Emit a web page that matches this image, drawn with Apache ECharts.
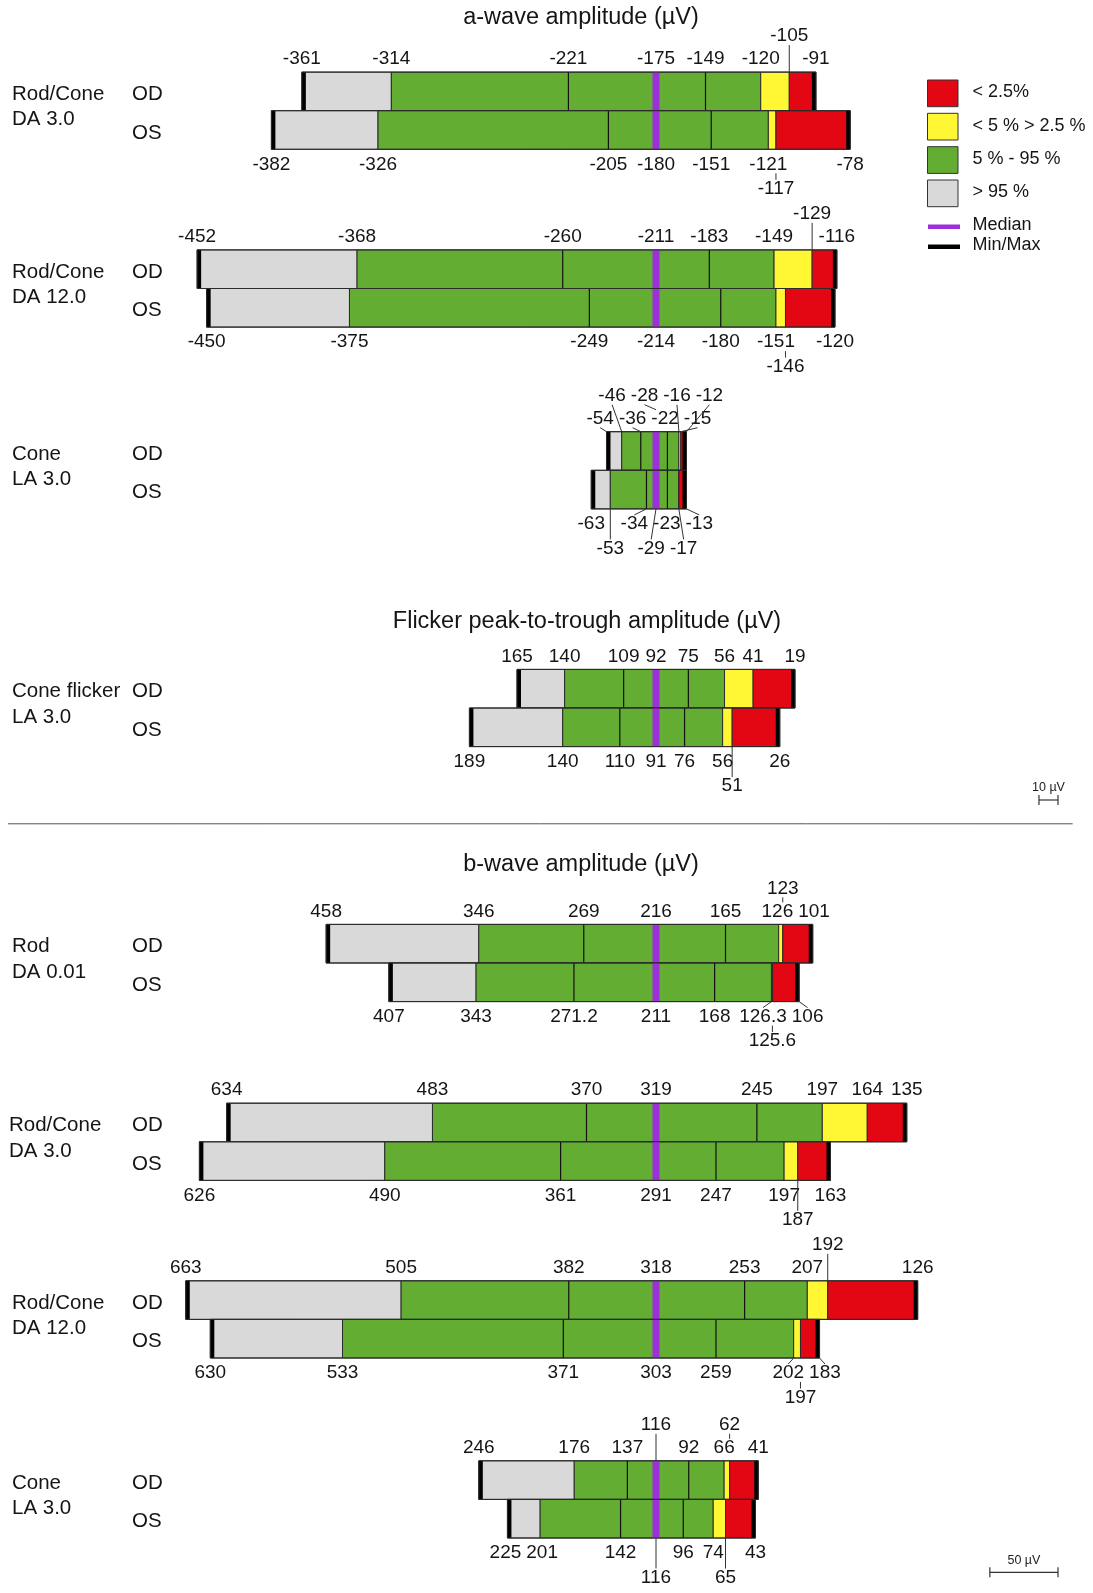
<!DOCTYPE html>
<html><head><meta charset="utf-8">
<script src="https://cdn.jsdelivr.net/npm/echarts@6/dist/echarts.min.js"></script>
<style>html,body{margin:0;padding:0;background:#fff}#c{width:1093px;height:1593px}</style>
</head><body><div id="c"></div>
<script>
// ---------- DATA (µV) ----------
// each row: [min, >95% | 5-95% boundary, inner line, median, inner line, 5-95% | <5% boundary, <5% | <2.5% boundary, max]
const aRodCone30_OD  = [-361, -314, -221, -175, -149, -120, -105, -91];
const aRodCone30_OS  = [-382, -326, -205, -180, -151, -121, -117, -78];
const aRodCone120_OD = [-452, -368, -260, -211, -183, -149, -129, -116];
const aRodCone120_OS = [-450, -375, -249, -214, -180, -151, -146, -120];
const aCone30_OD     = [-54, -46, -36, -28, -22, -16, -15, -12];
const aCone30_OS     = [-63, -53, -34, -29, -23, -17, -17, -13];
const flicker_OD     = [165, 140, 109, 92, 75, 56, 41, 19];
const flicker_OS     = [189, 140, 110, 91, 76, 56, 51, 26];
const bRod001_OD     = [458, 346, 269, 216, 165, 126, 123, 101];
const bRod001_OS     = [407, 343, 271.2, 211, 168, 126.3, 125.6, 106];
const bRodCone30_OD  = [634, 483, 370, 319, 245, 197, 164, 135];
const bRodCone30_OS  = [626, 490, 361, 291, 247, 197, 187, 163];
const bRodCone120_OD = [663, 505, 382, 318, 253, 207, 192, 126];
const bRodCone120_OS = [630, 533, 371, 303, 259, 202, 197, 183];
const bCone30_OD     = [246, 176, 137, 116, 92, 66, 62, 41];
const bCone30_OS     = [225, 201, 142, 116, 96, 74, 65, 43];
const eyes = ['OD', 'OS'];
const groupNames = [
  ['Rod/Cone', 'DA 3.0'], ['Rod/Cone', 'DA 12.0'], ['Cone', 'LA 3.0'],
  ['Cone flicker', 'LA 3.0'],
  ['Rod', 'DA 0.01'], ['Rod/Cone', 'DA 3.0'], ['Rod/Cone', 'DA 12.0'], ['Cone', 'LA 3.0']
];
const groupRows = [
  [aRodCone30_OD, aRodCone30_OS], [aRodCone120_OD, aRodCone120_OS], [aCone30_OD, aCone30_OS],
  [flicker_OD, flicker_OS],
  [bRod001_OD, bRod001_OS], [bRodCone30_OD, bRodCone30_OS], [bRodCone120_OD, bRodCone120_OS], [bCone30_OD, bCone30_OS]
];
const sectionTitles = ['a-wave amplitude (µV)', 'Flicker peak-to-trough amplitude (µV)', 'b-wave amplitude (µV)'];
const legendLabels = ['< 2.5%', '< 5 % > 2.5 %', '5 % - 95 %', '> 95 %', 'Median', 'Min/Max'];
const scaleBarA = [10];
const scaleBarB = [50];

// ---------- LAYOUT / STYLE ----------
const W = 1093, MEDIAN_X = 656, BAND = 38.6;
const PX_A = 1.904, PX_B = 1.363;            // px per µV
const groupScale = ['a','a','a','a','b','b','b','b'];
const groupTops = [72.1, 249.9, 431.7, 669.4, 924.4, 1103.2, 1280.8, 1460.8];
const groupNameX = [12, 12, 12, 12, 12, 9, 12, 12];
const C_GREY = '#d9d9d9', C_GREEN = '#63ad32', C_YELLOW = '#fff733', C_RED = '#e30613', C_MED = '#9c30da';
const FONT = '"Liberation Sans", Arial, Helvetica, sans-serif';
const LBL_SIZE = 19;
const TXT = '#151515';

const mctx = document.createElement('canvas').getContext('2d');
function textW(s, size) { mctx.font = size + 'px ' + FONT; return mctx.measureText(s).width; }

// label layout: clusters of overlapping labels alternate between two tiers,
// then labels in each tier are spread symmetrically to remove overlaps
function layoutLabels(L) {
  const PAD = 0.5, PAD_MED = 3, GAP = 5;
  const n = L.length;
  const overl = (a, b) => (b.x - a.x) < (a.w + b.w) / 2 + ((a.med || b.med) ? PAD_MED : PAD);
  let i = 0;
  while (i < n) {
    let j = i;
    while (j + 1 < n && overl(L[j], L[j + 1])) j++;
    const cl = L.slice(i, j + 1);
    let base = 0;
    const mi = cl.findIndex(l => l.med);
    if (cl.length > 1 && mi >= 0) base = (mi % 2 === 0) ? 1 : 0;
    cl.forEach((l, k) => { l.tier = cl.length === 1 ? 0 : (base + k) % 2; l.cx = l.x; });
    i = j + 1;
  }
  [0, 1].forEach(t => {
    const T = L.filter(l => l.tier === t);
    for (let it = 0; it < 300; it++) {
      let moved = false;
      for (let k = 0; k + 1 < T.length; k++) {
        const need = (T[k].w + T[k + 1].w) / 2 + GAP;
        const d = need - (T[k + 1].cx - T[k].cx);
        if (d > 0.01) { T[k].cx -= d / 2; T[k + 1].cx += d / 2; moved = true; }
      }
      if (!moved) break;
    }
  });
}

function txt(text, x, y, size, align, extra) {
  return Object.assign({ text, x, y, fill: TXT, font: size + 'px ' + FONT,
    textAlign: align || 'center', align: align || 'center', textVerticalAlign: 'middle', verticalAlign: 'middle' }, extra || {});
}

function renderRow(params, api) {
  const row = api.value(0);
  const v = [];
  for (let i = 0; i < 8; i++) v.push(api.value(2 + i));
  const med = v[3];
  const off = x => Math.abs(med) - Math.abs(x);
  const X = x => api.coord([off(x), row])[0];
  const yc = api.coord([0, row])[1];
  const h = api.size([0, 1])[1];
  const top = yc - h / 2, bot = yc + h / 2;
  const ch = [];
  const seg = (a, b, color) => ch.push({ type: 'rect', shape: { x: X(a), y: top, width: X(b) - X(a), height: h },
    style: { fill: color, stroke: '#2b2b2b', lineWidth: 1 } });
  seg(v[0], v[1], C_GREY); seg(v[1], v[5], C_GREEN); seg(v[5], v[6], C_YELLOW); seg(v[6], v[7], C_RED);
  [v[2], v[4]].forEach(q => ch.push({ type: 'line', shape: { x1: X(q), y1: top, x2: X(q), y2: bot },
    style: { stroke: '#111', lineWidth: 1.2 } }));
  ch.push({ type: 'rect', shape: { x: X(med) - 3.5, y: top, width: 7, height: h }, style: { fill: C_MED } });
  ch.push({ type: 'rect', shape: { x: X(v[0]), y: top, width: 4, height: h }, style: { fill: '#000' } });
  ch.push({ type: 'rect', shape: { x: X(v[7]) - 4, y: top, width: 4, height: h }, style: { fill: '#000' } });
  ch.push({ type: 'rect', shape: { x: X(v[0]), y: top, width: X(v[7]) - X(v[0]), height: h },
    style: { fill: 'none', stroke: '#2b2b2b', lineWidth: 1 } });

  const labels = [];
  v.forEach((val, i) => {
    if (i > 0 && val === v[i - 1]) return;
    const t = String(val);
    labels.push({ text: t, x: X(val), w: textW(t, LBL_SIZE), med: i === 3 });
  });
  labels.sort((a, b) => a.x - b.x);
  layoutLabels(labels);
  const isTop = row === 0;
  const t0 = labels.filter(l => l.tier === 0);
  const sgn = isTop ? -1 : 1;
  const Y0 = isTop ? 13 : 15, Y1 = isTop ? 36 : 39.5, HALF = 9;
  const edge = isTop ? top : bot;
  labels.forEach(l => {
    const ly = edge + sgn * (l.tier ? Y1 : Y0);
    ch.push({ type: 'text', style: txt(l.text, l.cx, ly, LBL_SIZE) });
    const lineSt = { stroke: '#333', lineWidth: 1 };
    if (l.tier) {
      const crosses = t0.some(o => l.x > o.cx - o.w / 2 + 3 && l.x < o.cx + o.w / 2 - 3);
      const yStart = crosses ? edge + sgn * (Y0 + HALF) : edge;
      ch.push({ type: 'line', shape: { x1: l.x, y1: yStart, x2: l.cx, y2: ly - sgn * HALF }, style: lineSt });
    } else if (Math.abs(l.cx - l.x) > 3) {
      ch.push({ type: 'line', shape: { x1: l.x, y1: edge, x2: l.cx, y2: ly - sgn * HALF }, style: lineSt });
    }
  });
  return { type: 'group', children: ch };
}

function scaleBar(yOff, unit) {
  return function (params, api) {
    const len = api.size([api.value(0), 0])[0];
    const cs = params.coordSys;
    const right = cs.x + cs.width - 35;
    const y = cs.y + cs.height + yOff;
    const st = { stroke: '#333', lineWidth: 1.2 };
    return { type: 'group', children: [
      { type: 'line', shape: { x1: right - len, y1: y, x2: right, y2: y }, style: st },
      { type: 'line', shape: { x1: right - len, y1: y - 5, x2: right - len, y2: y + 5 }, style: st },
      { type: 'line', shape: { x1: right, y1: y - 5, x2: right, y2: y + 5 }, style: st },
      { type: 'text', style: txt(api.value(0) + ' ' + unit, right - len / 2, y - 12, 12.5, 'center', { fill: '#222' }) }
    ] };
  };
}

const grid = [], xAxis = [], yAxis = [], series = [];
groupRows.forEach((rows, i) => {
  const k = groupScale[i] === 'a' ? PX_A : PX_B;
  grid.push({ left: 0, width: W, top: groupTops[i], height: 2 * BAND });
  xAxis.push({ type: 'value', gridIndex: i, min: -MEDIAN_X / k, max: (W - MEDIAN_X) / k, show: false });
  yAxis.push({ type: 'category', gridIndex: i, data: eyes, inverse: true, show: false });
  series.push({ type: 'custom', xAxisIndex: i, yAxisIndex: i, renderItem: renderRow, clip: false, silent: true,
    encode: { x: 1, y: 0 }, data: rows.map((r, ri) => [ri, 0].concat(r)) });
});
series.push({ type: 'custom', xAxisIndex: 3, yAxisIndex: 3, renderItem: scaleBar(53.4, 'µV'), clip: false, silent: true,
  encode: { x: 0, y: 1 }, data: [[scaleBarA[0], 0]] });
series.push({ type: 'custom', xAxisIndex: 7, yAxisIndex: 7, renderItem: scaleBar(34.3, 'µV'), clip: false, silent: true,
  encode: { x: 0, y: 1 }, data: [[scaleBarB[0], 0]] });

// graphics: titles, left labels, legend, separator
const graphic = [];
const titlePos = [[581, 17.8], [587, 621.7], [581, 864.5]];
sectionTitles.forEach((t, i) => graphic.push({ type: 'text', style: txt(t, titlePos[i][0], titlePos[i][1], 23.5) }));
groupNames.forEach((nm, i) => {
  const yOD = groupTops[i] + BAND / 2 + 3;
  graphic.push({ type: 'text', style: txt(nm[0], groupNameX[i], yOD, 20.5, 'left') });
  graphic.push({ type: 'text', style: txt(nm[1], groupNameX[i], yOD + 25.4, 20.5, 'left') });
  graphic.push({ type: 'text', style: txt(eyes[0], 132, yOD, 20.5, 'left') });
  graphic.push({ type: 'text', style: txt(eyes[1], 132, yOD + BAND, 20.5, 'left') });
});
const legColors = [C_RED, C_YELLOW, C_GREEN, C_GREY];
const legBoxY = [80, 113.3, 146.7, 180];
legColors.forEach((c, i) => {
  graphic.push({ type: 'rect', shape: { x: 927.5, y: legBoxY[i], width: 30.5, height: 26.7 }, style: { fill: c, stroke: '#333', lineWidth: 1 } });
  graphic.push({ type: 'text', style: txt(legendLabels[i], 972.5, legBoxY[i] + 12.5, 18, 'left') });
});
graphic.push({ type: 'rect', shape: { x: 928, y: 224.5, width: 32, height: 4.5 }, style: { fill: C_MED } });
graphic.push({ type: 'text', style: txt(legendLabels[4], 972.5, 225, 18, 'left') });
graphic.push({ type: 'rect', shape: { x: 928, y: 244.5, width: 32, height: 4.5 }, style: { fill: '#000' } });
graphic.push({ type: 'text', style: txt(legendLabels[5], 972.5, 245.5, 18, 'left') });
graphic.push({ type: 'line', shape: { x1: 8, y1: 823.8, x2: 1072.7, y2: 823.8 }, style: { stroke: '#555', lineWidth: 1 } });

const chart = echarts.init(document.getElementById('c'), null, { renderer: 'canvas' });
chart.setOption({ animation: false, backgroundColor: '#fff', grid, xAxis, yAxis, series, graphic });
</script></body></html>
